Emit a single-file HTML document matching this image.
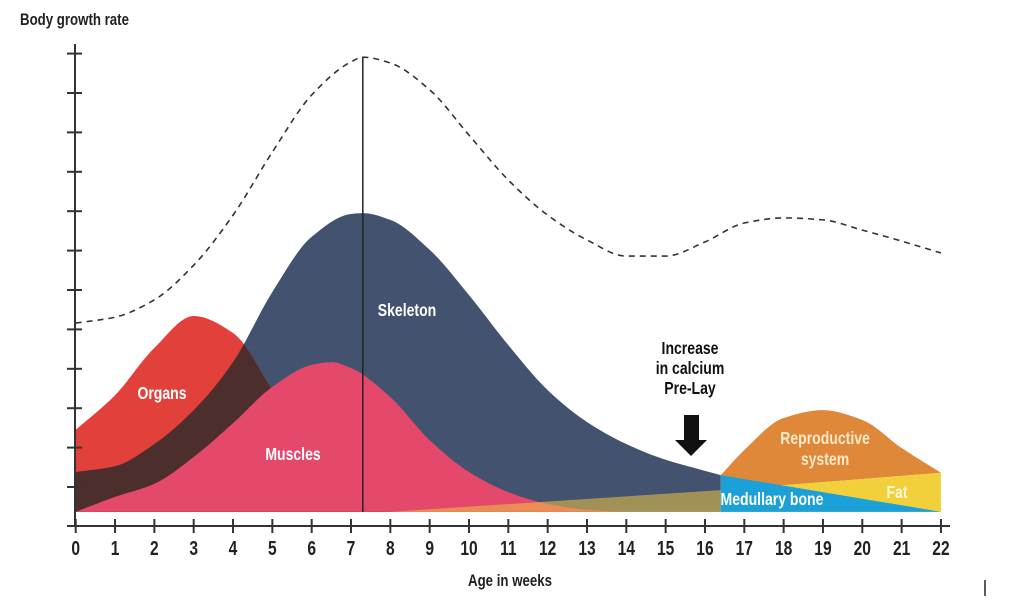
<!DOCTYPE html>
<html><head><meta charset="utf-8"><style>
body{margin:0;background:#fff;}
svg text{font-family:"Liberation Sans Narrow","Liberation Sans",sans-serif;}
</style></head><body>
<svg id="c" width="1024" height="599" viewBox="0 0 1024 599"></svg>
<script>
const weeks=[0,1,2,3,4,5,6,7,8,9,10,11,12,13,14,15,16,17,18,19,20,21,22];
const dashX=[0,1,2,3,4,5,6,7,7.3,8,9,10,11,12,13,14,15,16,17,18,19,20,21,22];
const dashV=[5.15,5.30,5.74,6.62,7.89,9.49,10.94,11.78,11.9,11.75,11.07,9.92,8.78,7.89,7.26,6.85,6.85,7.21,7.69,7.82,7.77,7.51,7.23,6.93];
const skelX=[0,1,2,3,4,5,6,7,7.3,8,9,10,11,12,13,14,15,16,16.4];
const skelV=[1.37,1.52,2.08,2.94,4.16,5.94,7.34,7.92,7.94,7.77,7.01,5.86,4.59,3.45,2.64,2.08,1.68,1.40,1.29];
const orgX=[0,1,2,3,4,5,6,7,8];
const orgV=[2.44,3.32,4.52,5.33,4.90,3.45,1.80,0.79,0.36];
const musX=[0,1,2,3,4,5,6,6.5,7,8,9,10,11,12,13,14];
const musV=[0.36,0.74,1.07,1.75,2.61,3.53,4.09,4.16,4.01,3.27,2.18,1.37,0.86,0.56,0.41,0.36];
const repX=[16.4,17,18,19,20,21,22];
const repV=[1.29,1.93,2.74,2.94,2.69,1.98,1.35];
const base=0.36;
const medLeft=[[8,0.36],[16.4,0.91]];
const blueTop=[[16.4,1.29],[22,0.36]];
const fatTop=[[16.4,0.91],[22,1.35]];
const yTicks=[0.99,1.99,2.99,3.99,4.99,5.99,6.99,7.99,8.99,9.99,10.99,11.99];
const vline=7.3;

const X=w=>75.7+w*39.33;
const Y=v=>526-v*39.4;
const svg=document.getElementById('c');
const NS='http://www.w3.org/2000/svg';
function mk(tag,attrs,parent){const e=document.createElementNS(NS,tag);for(const k in attrs)e.setAttribute(k,attrs[k]);(parent||svg).appendChild(e);return e;}
function curve(xs,vs){const p=xs.map((x,i)=>[X(x),Y(vs[i])]);const n=p.length;
 const d=[],m=[];for(let i=0;i<n-1;i++)d.push((p[i+1][1]-p[i][1])/(p[i+1][0]-p[i][0]));
 m[0]=d[0];m[n-1]=d[n-2];
 for(let i=1;i<n-1;i++){if(d[i-1]*d[i]<=0)m[i]=0;else{const h0=p[i][0]-p[i-1][0],h1=p[i+1][0]-p[i][0];
 m[i]=3*(h0+h1)/((2*h1+h0)/d[i-1]+(h1+2*h0)/d[i]);}}
 let s='M'+p[0][0]+','+p[0][1];
 for(let i=0;i<n-1;i++){const h=(p[i+1][0]-p[i][0])/3;
 s+=` C${p[i][0]+h},${p[i][1]+m[i]*h} ${p[i+1][0]-h},${p[i+1][1]-m[i+1]*h} ${p[i+1][0]},${p[i+1][1]}`;}
 return s;}
function area(xs,vs){return curve(xs,vs)+` L${X(xs[xs.length-1])},${Y(base)} L${X(xs[0])},${Y(base)} Z`;}
const defs=mk('defs',{});
const cp=mk('clipPath',{id:'orgclip'},defs);
mk('path',{d:area(orgX,orgV)},cp);

let e;
e=mk('path',{d:area(skelX,skelV),fill:'#42526f'});

e=mk('path',{d:area(orgX,orgV),fill:'#e2403a'});

e=mk('path',{d:area(skelX,skelV),fill:'#4c2f2d','clip-path':'url(#orgclip)'});

e=mk('path',{d:area(musX,musV),fill:'#e4486b'});

e=mk('path',{d:`M${X(medLeft[0][0])},${Y(medLeft[0][1])} L${X(medLeft[1][0])},${Y(medLeft[1][1])} L${X(medLeft[1][0])},${Y(base)} Z`,fill:'#f2c443','fill-opacity':'0.55'});

e=mk('path',{d:curve(repX,repV)+` L${X(fatTop[1][0])},${Y(fatTop[1][1])} L${X(fatTop[0][0])},${Y(fatTop[0][1])} Z`,fill:'#e0883a'});

e=mk('path',{d:`M${X(fatTop[0][0])},${Y(fatTop[0][1])} L${X(fatTop[1][0])},${Y(fatTop[1][1])} L${X(22)},${Y(base)} L${X(16.4)},${Y(base)} Z`,fill:'#f1d03c'});

e=mk('path',{d:`M${X(blueTop[0][0])},${Y(blueTop[0][1])} L${X(blueTop[1][0])},${Y(blueTop[1][1])} L${X(16.4)},${Y(base)} Z`,fill:'#1ba0d8'});

e=mk('path',{d:curve(dashX,dashV),fill:'none',stroke:'#333','stroke-width':1.6,'stroke-dasharray':'6,5'});

e=mk('line',{x1:X(vline),x2:X(vline),y1:Y(11.9),y2:Y(base),stroke:'#222','stroke-width':1.5});


function txt(s,x,y,size,fill,name,anchor){const t=mk('text',{x:0,y:0,transform:`translate(${x},${y}) scale(0.78,1)`,'font-size':size,'font-weight':'bold',fill,'text-anchor':anchor||'middle'});t.textContent=s;
return t;}

e=mk('line',{x1:75,x2:75,y1:44,y2:526,stroke:'#333','stroke-width':2});

yTicks.forEach(v=>{const t=mk('line',{x1:67,x2:82,y1:Y(v),y2:Y(v),stroke:'#333','stroke-width':2});
});
e=mk('line',{x1:67,x2:950,y1:526,y2:526,stroke:'#333','stroke-width':2});

weeks.forEach(w=>{const t=mk('line',{x1:X(w),x2:X(w),y1:519,y2:533,stroke:'#333','stroke-width':2});

txt(String(w),X(w),555,20,'#222','x-tick-label');});

txt('Body growth rate',20,25,17,'#222','y-axis-title','start');
txt('Age in weeks',510,586,17,'#222','x-axis-title');
txt('Skeleton',407,316,18,'#fff','skeleton-label');
txt('Organs',162,399,18,'#fff','organs-label');
txt('Muscles',293,460,18,'#fff','muscles-label');
txt('Reproductive',825,444,18,'#fde9c8','reproductive-label');
txt('system',825,465,18,'#fde9c8','reproductive-label-2');
txt('Medullary bone',772,505,18,'#fff','medullary-bone-label');
txt('Fat',897,498,18,'#fff8d8','fat-label');
txt('Increase',690,354,18,'#111','annotation-line-1');
txt('in calcium',690,374,18,'#111','annotation-line-2');
txt('Pre-Lay',690,394,18,'#111','annotation-line-3');
e=mk('path',{d:'M684,415 L699,415 L699,440 L707,440 L691,456 L675,440 L684,440 Z',fill:'#111'});

e=mk('line',{x1:985,x2:985,y1:580,y2:596,stroke:'#222','stroke-width':1.5});

</script>
</body></html>
